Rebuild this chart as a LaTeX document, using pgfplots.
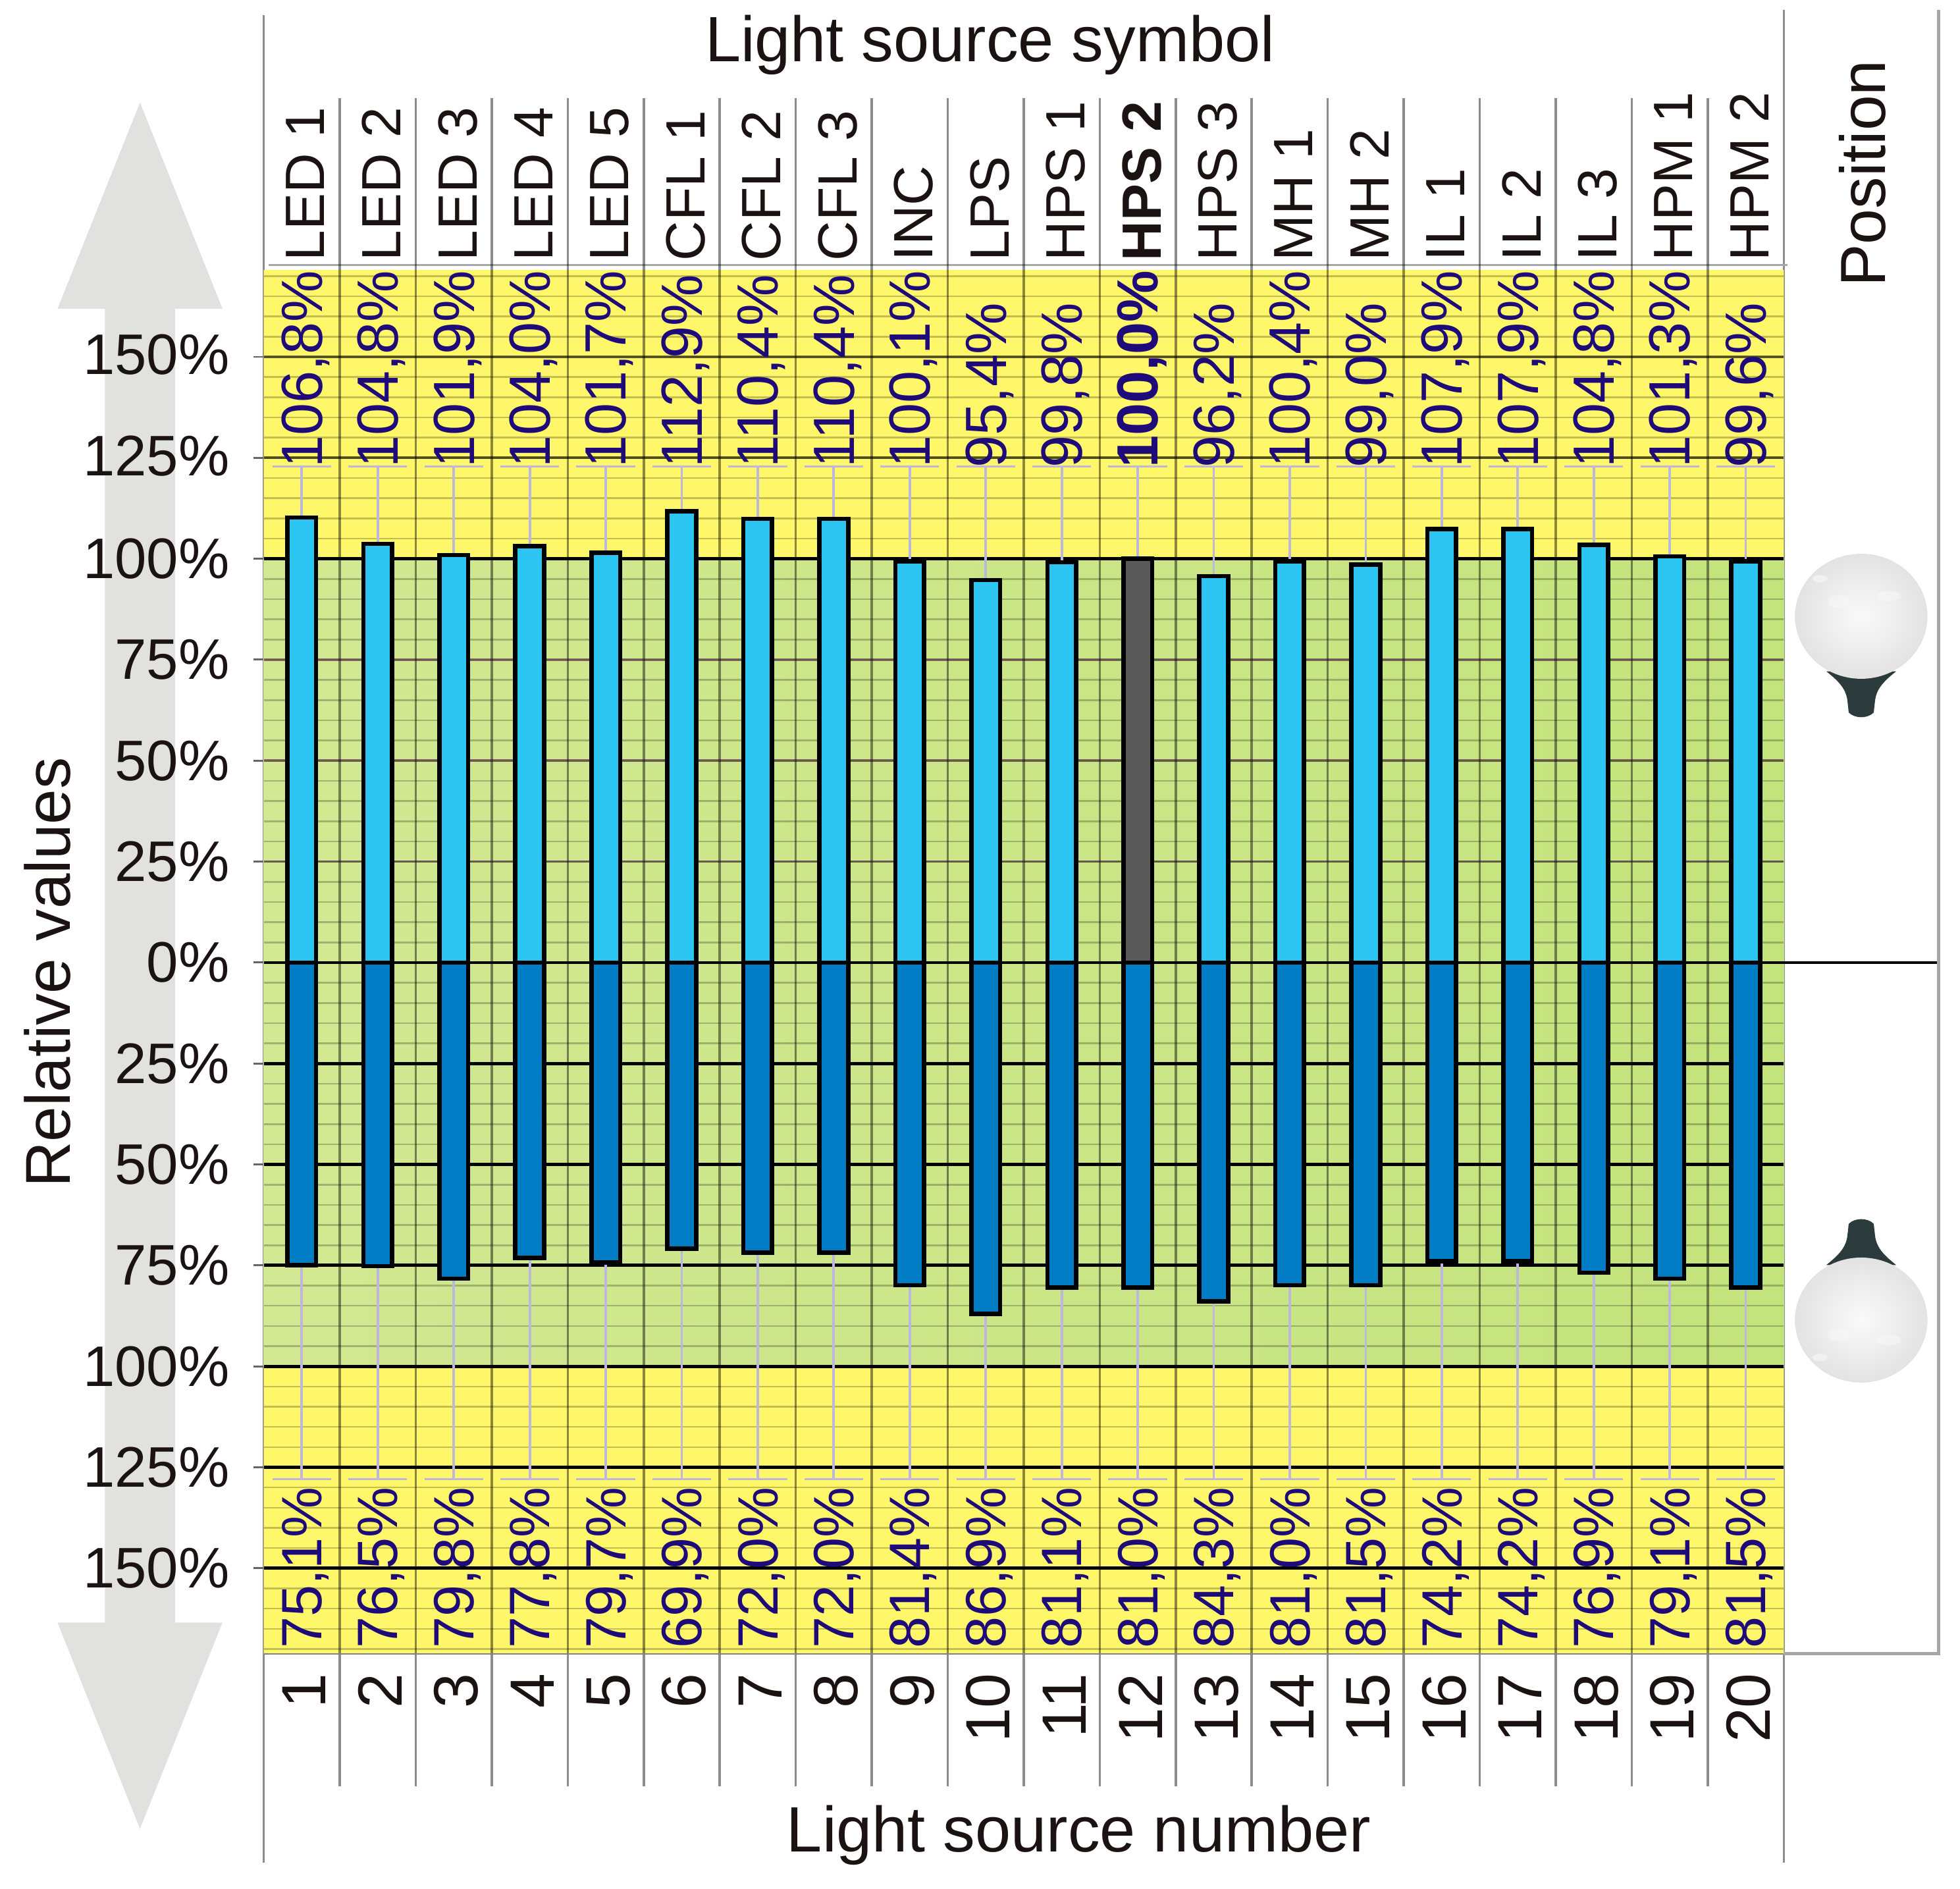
\documentclass[border=0pt]{standalone}
\usepackage{fontspec}
\setmainfont{Liberation Sans}
\usepackage{pgfplots}
\usepackage{pgfplotstable}
\pgfplotsset{compat=1.18}

\definecolor{bandyellow}{HTML}{FFF76A}
\definecolor{greenleft}{HTML}{D3E892}
\definecolor{greenright}{HTML}{C3E37C}
\definecolor{barup}{HTML}{2CC5F2}
\definecolor{bardown}{HTML}{007DC5}
\definecolor{barref}{HTML}{595959}
\definecolor{stem}{HTML}{BDB7DE}
\definecolor{valtext}{HTML}{1F0A7A}
\definecolor{inktext}{HTML}{1A1311}
\definecolor{arrowgray}{HTML}{E1E1E0}
\definecolor{capdark}{HTML}{2B3A3B}

% bar heights as drawn, the printed labels differ a little
\pgfplotstableread{
id up    down   uplab            dnlab  sym
1  110.2 -74.9  106,8            75,1   {LED 1}
2  103.7 -75.2  104,8            76,5   {LED 2}
3  100.9 -78.3  101,9            79,8   {LED 3}
4  103.1 -73.1  104,0            77,8   {LED 4}
5  101.5 -74.3  101,7            79,7   {LED 5}
6  111.8 -70.9  112,9            69,9   {CFL 1}
7  109.9 -71.8  110,4            72,0   {CFL 2}
8  109.9 -71.8  110,4            72,0   {CFL 3}
9  99.4  -79.9  100,1            81,4   INC
10 94.7  -87.0  95,4             86,9   LPS
11 99.1  -80.5  99,8             81,1   {HPS 1}
12 100.0 -80.5  {\bfseries100,0} 81,0   {\bfseries HPS 2}
13 95.7  -83.9  96,2             84,3   {HPS 3}
14 99.4  -79.9  100,4            81,0   {MH 1}
15 98.5  -79.9  99,0             81,5   {MH 2}
16 107.4 -74.0  107,9            74,2   {IL 1}
17 107.4 -74.0  107,9            74,2   {IL 2}
18 103.4 -76.8  104,8            76,9   {IL 3}
19 100.6 -78.3  101,3            79,1   {HPM 1}
20 99.4  -80.5  99,6             81,5   {HPM 2}
}\lampdata

\newcommand{\lamp}{%
  \fill[capdark] (-28,44) .. controls (-18,52) and (-12,58) .. (-11,68)
    -- (-10,77) .. controls (-5,82) and (5,82) .. (10,77) -- (11,68)
    .. controls (12,58) and (18,52) .. (28,44) -- cycle;
  \shade[inner color=white!96!gray, outer color=black!11] (0,0) ellipse (53 and 50);
  \fill[white, opacity=.45] (-33,-30) ellipse (6 and 3);
  \fill[white, opacity=.35] (22,-16) ellipse (10 and 4);
  \fill[white, opacity=.3] (-18,-12) ellipse (9 and 5);
}

\newcommand{\fs}[1]{\fontsize{#1}{#1}\selectfont}
\newcommand{\hi}[1]{\raisebox{1.4pt}{#1}}
\newcommand{\lo}[1]{\raisebox{-1.8pt}{#1}\hspace{1.4pt}}

\begin{document}
\begin{tikzpicture}
\useasboundingbox (0,0) rectangle (627.2pt,-604.4pt);

% everything outside the plot, in pixels of the 1568 wide view
\begin{scope}[x=0.4pt,y=-0.4pt]
  \fill[arrowgray] (112,82) -- (178,247) -- (140,247) -- (140,1298) -- (178,1298)
    -- (112,1463) -- (46,1298) -- (84,1298) -- (84,247) -- (46,247) -- cycle;
  \draw[black!45, line width=.7pt] (211,12) -- (211,1490);
  \draw[black!45, line width=.7pt] (1427,8) -- (1427,1490);
  \draw[black!35, line width=1pt] (1551,8) -- (1551,1323) -- (1427,1323);
  \draw[black!35, line width=.6pt] (215,212) -- (1430,212);
  \node[inktext, font=\fs{20.5}] at (792,36) {Light source symbol};
  \node[inktext, font=\fs{20.5}] at (863,1468) {Light source number};
  \node[inktext, font=\fs{20.3}, rotate=90] at (38,778) {Relative values};
  \node[inktext, font=\fs{20.4}, rotate=90, anchor=west, inner sep=0pt] at (1490,230) {Position};
  \begin{scope}[shift={(1489,493)}] \lamp \end{scope}
  \begin{scope}[shift={(1489,1056)},yscale=-1] \lamp \end{scope}
\end{scope}

\begin{axis}[
    at={(84.4pt,-529.2pt)}, anchor=south west,
    scale only axis, width=486.4pt, height=442.8pt,
    xmin=0.5, xmax=20.5, ymin=-171.2, ymax=171.5,
    clip=false,
    axis line style={draw=none},
    xtick={1,...,20},
    xticklabels={1,2,3,4,5,6,7,8,9,10,11,12,13,14,15,16,17,18,19,20},
    xtick style={draw=none},
    % rotated frame: xshift runs upward, yshift runs to the left
    xticklabel style={rotate=90, anchor=east, inner sep=0pt, font=\fs{20}, text=inktext,
      xshift=-2.8pt, yshift=-0.8pt},
    xtick pos=bottom,
    ytick={-150,-125,-100,-75,-50,-25,0,25,50,75,100,125,150},
    yticklabels={\lo{150\%},\lo{125\%},\lo{100\%},\lo{75\%},\lo{50\%},\lo{25\%},\lo{0\%},25\%,50\%,75\%,100\%,\hi{125\%},\hi{150\%}},
    ytick style={draw=black!60, line width=.6pt},
    ytick pos=left,
    tick align=outside,
    major tick length=3.2pt,
    yticklabel style={inner sep=0pt, font=\fs{18.3}, text=inktext, xshift=-7.6pt},
]

% backgrounds
\addplot[draw=none, fill=bandyellow] coordinates {(0.5,-171.2)(20.5,-171.2)(20.5,171.5)(0.5,171.5)} \closedcycle;
\shade[left color=greenleft, right color=greenright] (axis cs:0.5,-100) rectangle (axis cs:20.5,100);

% 5 % lines, then the heavier 25 % lines
\pgfplotsinvokeforeach{-170,-165,...,170}{
  \draw[black, opacity=.23, line width=.55pt] (axis cs:0.5,#1) -- (axis cs:20.5,#1);
}
\pgfplotsinvokeforeach{1.5,2.5,...,19.5}{
  \draw[black, opacity=.45, line width=.75pt] (axis cs:#1,-204) -- (axis cs:#1,214);
}
\pgfplotsinvokeforeach{25,50,75}{
  \draw[black!60!violet, opacity=.5, line width=.8pt] (axis cs:0.5,#1) -- (axis cs:20.5,#1);
}
\pgfplotsinvokeforeach{125,150}{
  \draw[black, opacity=.6, line width=.8pt] (axis cs:0.5,#1) -- (axis cs:20.5,#1);
}
\pgfplotsinvokeforeach{-150,-125,-100,-75,-50,-25,100}{
  \draw[black, line width=1pt] (axis cs:0.5,#1) -- (axis cs:20.5,#1);
}
\draw[black!50, line width=.5pt] (axis cs:0.5,-171.2) -- (axis cs:20.5,-171.2);

% stems with their caps, the bars cover the part below the bar end
\addplot[ycomb, draw=stem, line width=.8pt, mark=-, mark size=9.4pt,
    mark options={draw=stem, line width=.7pt}]
  table[x=id, y expr=122.8] {\lampdata};
\addplot[ycomb, draw=stem, line width=.8pt, mark=-, mark size=9.4pt,
    mark options={draw=stem, line width=.7pt}]
  table[x=id, y expr=-127.9] {\lampdata};

% bars
\addplot[ybar, bar width=9.2pt, bar shift=0pt, fill=barup, draw=black, line width=1.4pt]
  table[x=id, y=up] {\lampdata};
\addplot[ybar, bar width=9.2pt, bar shift=0pt, fill=barref, draw=black, line width=1.4pt]
  coordinates {(12,100.0)};
\addplot[ybar, bar width=9.2pt, bar shift=0pt, fill=bardown, draw=black, line width=1.4pt]
  table[x=id, y=down] {\lampdata};

% zero line runs on into the position column
\draw[black, line width=1pt] (axis cs:0.5,0) -- (axis cs:22.52,0);

% printed values
\addplot[only marks, mark=none, point meta=explicit symbolic,
    nodes near coords={\pgfplotspointmeta\%},
    nodes near coords style={rotate=90, anchor=west, inner sep=0pt, text depth=0pt,
      font=\fs{18.6}, text=valtext}]
  table[x=id, y expr=122.4, meta=uplab] {\lampdata};
\addplot[only marks, mark=none, point meta=explicit symbolic,
    nodes near coords={\pgfplotspointmeta\%},
    nodes near coords style={rotate=90, anchor=west, inner sep=0pt, text depth=0pt,
      font=\fs{18.2}, text=valtext}]
  table[x=id, y expr=-170, meta=dnlab] {\lampdata};
% symbols over the plot
\addplot[only marks, mark=none, point meta=explicit symbolic,
    nodes near coords={\pgfplotspointmeta},
    nodes near coords style={rotate=90, anchor=west, inner sep=0pt, text depth=0pt,
      font=\fs{17.7}, text=inktext, yshift=-1.2pt}]
  table[x=id, y expr=173.6, meta=sym] {\lampdata};
\end{axis}
\end{tikzpicture}
\end{document}
